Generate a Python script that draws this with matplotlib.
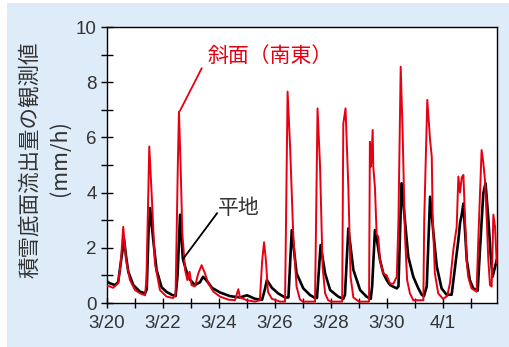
import matplotlib
matplotlib.use('Agg')
import matplotlib.pyplot as plt
import matplotlib.patches as patches

# days since 3/20 00:00 and outflow (mm/h)
t_slope = [0.0, 0.1, 0.22, 0.4, 0.49, 0.58, 0.68, 0.82, 1.0, 1.18, 1.36, 1.41, 1.51, 1.6, 1.71, 1.89,
           2.13, 2.36, 2.45, 2.53, 2.57, 2.63, 2.69, 2.79, 2.87, 2.95, 3.02, 3.14, 3.26, 3.38, 3.5,
           3.62, 3.8, 4.04, 4.34, 4.57, 4.69, 4.75, 5.0, 5.29, 5.46, 5.54, 5.61, 5.68, 5.75, 5.89,
           6.18, 6.36, 6.45, 6.54, 6.65, 6.77, 6.89, 7.0, 7.43, 7.52, 7.61, 7.7, 7.79, 7.9, 8.0,
           8.4, 8.44, 8.52, 8.62, 8.7, 8.8, 9.0, 9.36, 9.39, 9.43, 9.49, 9.51, 9.57, 9.63, 9.69,
           9.75, 9.87, 9.99, 10.11, 10.23, 10.35, 10.41, 10.49, 10.56, 10.64, 10.72, 10.82, 10.94,
           11.3, 11.33, 11.44, 11.54, 11.6, 11.63, 11.71, 11.83, 12.0, 12.15, 12.25, 12.37, 12.49,
           12.55, 12.61, 12.67, 12.73, 12.79, 12.85, 12.9, 13.02, 13.2, 13.27, 13.38, 13.44, 13.5,
           13.56, 13.62, 13.68, 13.74, 13.8, 13.86, 13.92]
v_slope = [0.62, 0.6, 0.55, 0.72, 1.44, 2.76, 1.56, 0.83, 0.47, 0.35, 0.28, 0.9, 5.67, 3.85, 1.45, 0.47,
           0.23, 0.18, 0.3, 5.0, 6.93, 4.94, 2.53, 1.2, 0.83, 1.13, 0.65, 0.6, 1.07, 1.37, 1.07,
           0.71, 0.41, 0.23, 0.12, 0.1, 0.5, 0.2, 0.1, 0.05, 0.1, 1.5, 2.2, 1.5, 0.4, 0.15,
           0.05, 0.05, 7.66, 5.66, 2.53, 0.6, 0.13, 0.05, 0.05, 7.05, 4.94, 1.32, 0.35, 0.1, 0.05,
           0.05, 6.5, 7.05, 4.2, 0.95, 0.2, 0.05, 0.05, 5.84, 4.94, 6.27, 4.94, 4.2, 2.5, 2.4,
           1.56, 1.07, 1.0, 0.7, 0.7, 0.95, 3.0, 8.56, 6.15, 2.52, 0.83, 0.35, 0.1,
           0.1, 3.0, 7.36, 5.9, 5.3, 3.25, 1.08, 0.35, 0.15, 0.25, 0.72, 1.92, 2.76,
           4.58, 4.0, 4.55, 4.64, 3.0, 1.5, 0.95, 0.53, 0.41, 2.5, 5.54, 5.1, 4.46,
           3.13, 1.56, 0.65, 0.6, 3.2, 2.76, 1.44]

t_flat = [0.0, 0.11, 0.29, 0.4, 0.52, 0.61, 0.68, 0.76, 0.94, 1.18, 1.36, 1.42, 1.48, 1.54, 1.65, 1.77,
          1.95, 2.13, 2.31, 2.45, 2.52, 2.61, 2.71, 2.82, 2.96, 3.14, 3.32, 3.43, 3.57, 3.75, 4.04,
          4.39, 4.75, 5.0, 5.29, 5.54, 5.64, 5.71, 5.89, 6.11, 6.36, 6.48, 6.6, 6.77, 7.01, 7.25,
          7.4, 7.5, 7.63, 7.79, 7.97, 8.26, 8.44, 8.5, 8.62, 8.8, 9.04, 9.27, 9.42, 9.47, 9.57,
          9.66, 9.75, 9.87, 9.99, 10.11, 10.35, 10.41, 10.52, 10.64, 10.76, 10.94, 11.12, 11.24,
          11.32, 11.42, 11.54, 11.66, 11.78, 11.95, 12.13, 12.31, 12.55, 12.61, 12.67, 12.73,
          12.85, 12.96, 13.08, 13.24, 13.32, 13.44, 13.52, 13.61, 13.7, 13.77, 13.86, 13.92]
v_flat = [0.78, 0.71, 0.65, 0.76, 1.67, 2.3, 1.7, 1.13, 0.65, 0.41, 0.35, 0.5, 2.5, 3.44, 2.3, 1.2,
          0.57, 0.4, 0.3, 0.25, 1.0, 3.2, 1.6, 1.2, 0.85, 0.65, 0.75, 0.95, 0.8, 0.55, 0.38,
          0.25, 0.2, 0.28, 0.15, 0.12, 0.5, 0.83, 0.55, 0.35, 0.2, 0.2, 2.64, 1.08, 0.53, 0.29,
          0.2, 0.18, 2.1, 1.07, 0.47, 0.23, 0.15, 0.3, 2.7, 1.2, 0.47, 0.23, 0.15, 0.6, 2.64,
          2.16, 1.56, 1.07, 0.83, 0.65, 0.53, 0.6, 4.34, 3.0, 1.68, 0.95, 0.53, 0.3,
          0.25, 0.6, 3.85, 2.52, 1.32, 0.53, 0.3, 0.3, 2.28, 2.9, 3.2, 3.6,
          1.56, 0.83, 0.53, 0.45, 1.9, 3.97, 4.34, 3.2, 1.8, 0.95, 1.3, 1.56]

day_ticks = list(range(14))
day_labels = ['3/20', '', '3/22', '', '3/24', '', '3/26', '', '3/28', '', '3/30', '', '4/1', '']

red = '#e60012'
grey = '#333333'
jp = ['Noto Sans CJK JP', 'DejaVu Sans']

fig = plt.figure(figsize=(5.09, 3.47), dpi=100)
# light blue panel behind everything
fig.patches.append(patches.Rectangle((7/509, 0), 1, 1 - 3/347, transform=fig.transFigure,
                                     facecolor='#deebf8', edgecolor='none', zorder=-5))

ax = fig.add_axes([107/509, 1 - 303/347, 390/509, 276/347])
ax.set_facecolor('white')

ax.plot(t_flat, v_flat, color='black', lw=1.9, solid_joinstyle='round', zorder=3)
ax.plot(t_slope, v_slope, color=red, lw=1.4, solid_joinstyle='round', zorder=4)

ax.set_xlim(0, 13.93)
ax.set_ylim(0, 10)
ax.set_xticks(day_ticks)
ax.set_xticklabels(day_labels)
ax.set_yticks(range(0, 11, 2))
ax.set_yticks(range(1, 11, 2), minor=True)
ax.tick_params(axis='both', which='both', direction='inout', width=1.0, color='black',
               labelsize=13.5, labelcolor=grey)
ax.tick_params(axis='y', which='both', length=9, pad=3)
ax.tick_params(axis='x', which='both', length=7, pad=5)
for lab in ax.get_xticklabels() + ax.get_yticklabels():
    lab.set_family('Liberation Sans')
for s in ax.spines.values():
    s.set_linewidth(1.0)

# labels on the curves
ax.text(3.6, 8.95, '斜面（南東）', color=red, fontsize=15, family=jp, ha='left', va='center')
ax.plot([3.38, 2.61], [8.5, 6.97], color=red, lw=1.3, zorder=5)
ax.text(3.98, 3.45, '平地', color=grey, fontsize=15, family=jp, ha='left', va='center')
ax.plot([3.93, 2.72], [3.25, 1.6], color='black', lw=1.3, zorder=5)

# y axis title in two lines
fig.text(30/509, 1 - 160/347, '積雪底面流出量の観測値', rotation=90, color=grey, fontsize=15.5,
         family=jp, ha='center', va='center')
fig.text(60/509, 1 - 158/347, '(mm/h)', rotation=90, color=grey, fontsize=15.5,
         family=jp, ha='center', va='center')

fig.savefig('out.png', dpi=100)
